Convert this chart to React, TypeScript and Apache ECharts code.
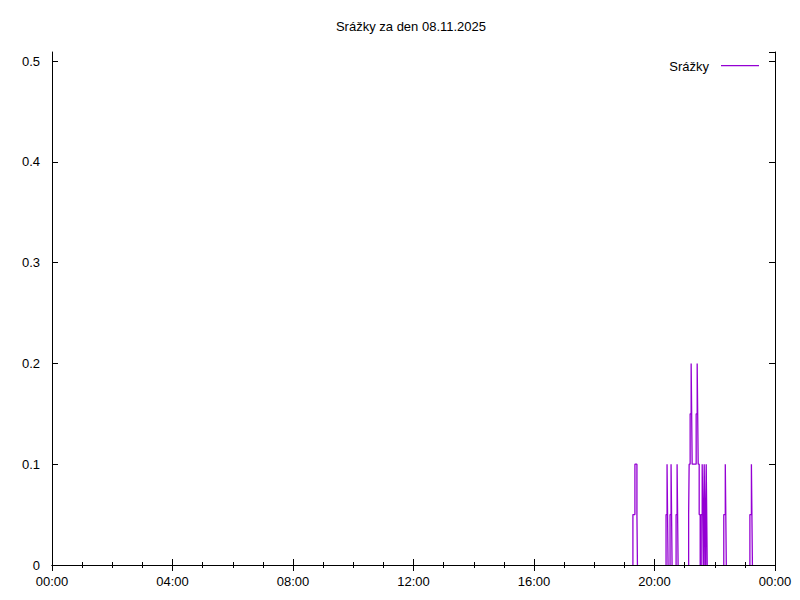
import React, { useEffect, useRef } from "react";
import * as echarts from "echarts";

const titleText = "Srážky za den 08.11.2025";
const seriesName = "Srážky";

// rain step data: at each time the value changes to the given value (mm)
const times = [
  "19:17", "19:21", "19:25", "19:26",
  "20:23", "20:25", "20:26", "20:27",
  "20:31", "20:33", "20:34", "20:35",
  "20:43", "20:45", "20:46", "20:47",
  "21:08", "21:09", "21:11", "21:13", "21:14", "21:15", "21:23", "21:25", "21:26", "21:27", "21:29", "21:31",
  "21:33", "21:35", "21:36", "21:37", "21:38", "21:39", "21:40", "21:41", "21:42", "21:43", "21:44", "21:45",
  "22:18", "22:21", "22:22", "22:23",
  "23:10", "23:13", "23:14", "23:15",
];
const rain = [
  0.05, 0.1, 0.05, 0,
  0.05, 0.1, 0.05, 0,
  0.05, 0.1, 0.05, 0,
  0.05, 0.1, 0.05, 0,
  0.05, 0.1, 0.15, 0.2, 0.15, 0.1, 0.15, 0.2, 0.15, 0.1, 0.05, 0,
  0.05, 0.1, 0.05, 0, 0.05, 0.1, 0.05, 0, 0.05, 0.1, 0.05, 0,
  0.05, 0.1, 0.05, 0,
  0.05, 0.1, 0.05, 0,
];
const xTickMinutes = [0, 240, 480, 720, 960, 1200, 1440];
const yTicks = [0, 0.1, 0.2, 0.3, 0.4, 0.5];

const toMin = (t: string) => {
  const [h, m] = t.split(":").map(Number);
  return h * 60 + m;
};
const fmtTime = (v: number) => {
  const m = Math.round(v) % 1440;
  const h = Math.floor(m / 60);
  const mm = m % 60;
  return String(h).padStart(2, "0") + ":" + String(mm).padStart(2, "0");
};

const FONT = "'Liberation Sans', Arial, sans-serif";
const PURPLE = "#9400D3";

export default function App() {
  const ref = useRef<HTMLDivElement>(null);
  useEffect(() => {
    if (!ref.current) return;
    const chart = echarts.init(ref.current, null, { renderer: "svg" });
    const data: any[] = [];
    let prev = 0;
    times.forEach((t, i) => {
      const x = toMin(t);
      const v = rain[i];
      if (prev === 0 && v !== 0) data.push([x, 0]);
      data.push([x, v]);
      if (v === 0 && prev !== 0) data.push([x, "-"]);
      prev = v;
    });
    const xMax = xTickMinutes[xTickMinutes.length - 1];
    const yInterval = yTicks[1] - yTicks[0];
    const common = {
      type: "value" as const,
      min: 0,
      max: xMax,
      interval: 240,
      splitLine: { show: false },
      axisLine: { show: true, lineStyle: { color: "#000", width: 1 } },
      axisTick: { show: true, inside: true, length: 6, lineStyle: { color: "#000" } },
      minorTick: { show: true, splitNumber: 4, length: 3, lineStyle: { color: "#000" } },
      z: 10,
    };
    const yCommon = {
      type: "value" as const,
      min: 0,
      max: 0.509,
      interval: yInterval,
      splitLine: { show: false },
      axisLine: { show: true, onZero: false, lineStyle: { color: "#000", width: 1 } },
      axisTick: { show: true, inside: true, length: 6, lineStyle: { color: "#000" } },
      z: 10,
    };
    chart.setOption({
      animation: false,
      backgroundColor: "#fff",
      grid: { left: 52, top: 52, width: 723, height: 513, show: false, containLabel: false },
      xAxis: [
        {
          ...common,
          position: "bottom",
          axisLabel: {
            show: true,
            margin: 10,
            color: "#000",
            fontFamily: FONT,
            fontSize: 13,
            formatter: (v: number) => fmtTime(v),
          },
        },
        { ...common, position: "top", axisLabel: { show: false } },
      ],
      yAxis: [
        {
          ...yCommon,
          position: "left",
          axisLabel: {
            show: true,
            margin: 12,
            color: "#000",
            fontFamily: FONT,
            fontSize: 13,
            showMaxLabel: false,
            formatter: (v: number) => (v === 0 ? "0" : v.toFixed(1)),
          },
        },
        { ...yCommon, position: "right", axisLabel: { show: false } },
      ],
      series: [
        {
          name: seriesName,
          type: "line",
          step: "end",
          connectNulls: false,
          xAxisIndex: 0,
          yAxisIndex: 0,
          showSymbol: false,
          symbol: "none",
          lineStyle: { color: PURPLE, width: 1.3 },
          itemStyle: { color: PURPLE },
          data,
          z: 2,
        },
      ],
      graphic: [
        {
          type: "text",
          x: 411,
          y: 26,
          style: {
            text: titleText,
            fill: "#000",
            font: `13px ${FONT}`,
            textAlign: "center",
            textVerticalAlign: "middle",
          },
        },
        {
          type: "text",
          x: 709,
          y: 66,
          style: {
            text: seriesName,
            fill: "#000",
            font: `13px ${FONT}`,
            textAlign: "right",
            textVerticalAlign: "middle",
          },
        },
        {
          type: "rect",
          shape: { x: 721, y: 65, width: 38, height: 1.3 },
          style: { fill: PURPLE },
        },
      ],
    });
    return () => chart.dispose();
  }, []);
  return (
    <div
      ref={ref}
      style={{ position: "fixed", left: 0, top: 0, width: 800, height: 600, background: "#fff" }}
    />
  );
}
